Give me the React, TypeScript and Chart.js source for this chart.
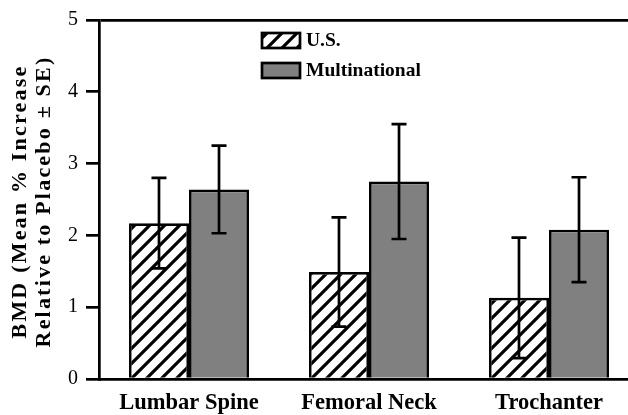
import React, { useEffect, useRef } from "react";
import { Chart, registerables } from "chart.js";

Chart.register(...registerables);

const categories = ["Lumbar Spine", "Femoral Neck", "Trochanter"];
const seriesLabels = ["U.S.", "Multinational"];
const usValues = [2.17, 1.49, 1.13];
const usErrors = [0.63, 0.76, 0.84];
const multiValues = [2.64, 2.75, 2.08];
const multErrors = [0.61, 0.8, 0.73];
const yTicks = [0, 1, 2, 3, 4, 5];
const yTitle = ["BMD (Mean % Increase", "Relative to Placebo ± SE)"];

const FONT = "'Liberation Serif', 'Times New Roman', serif";

function makeHatch(): CanvasPattern | string {
  const s = 15;
  const c = document.createElement("canvas");
  c.width = s;
  c.height = s;
  const g = c.getContext("2d");
  if (!g) return "#fff";
  g.fillStyle = "#ffffff";
  g.fillRect(0, 0, s, s);
  g.strokeStyle = "#000000";
  g.lineWidth = 3.2;
  g.lineCap = "square";
  g.beginPath();
  g.moveTo(-2, s + 2);
  g.lineTo(s + 2, -2);
  g.moveTo(-s / 2 - 2, s / 2 + 2);
  g.lineTo(s / 2 + 2, -s / 2 - 2);
  g.moveTo(s / 2 - 2, s * 1.5 + 2);
  g.lineTo(s * 1.5 + 2, s / 2 - 2);
  g.stroke();
  const p = g.createPattern(c, "repeat");
  return p || "#fff";
}

export default function App() {
  const ref = useRef<HTMLCanvasElement | null>(null);

  useEffect(() => {
    if (!ref.current) return;
    const hatch = makeHatch();
    const errors = [usErrors, multErrors];

    const errorBars = {
      id: "errorBars",
      afterDatasetsDraw(chart: any) {
        const ctx = chart.ctx;
        const ys = chart.scales.y;
        ctx.save();
        ctx.strokeStyle = "#000";
        ctx.lineWidth = 2.7;
        chart.data.datasets.forEach((ds: any, i: number) => {
          const meta = chart.getDatasetMeta(i);
          meta.data.forEach((el: any, j: number) => {
            const v = ds.data[j];
            const e = errors[i][j];
            const x = el.x;
            const yt = ys.getPixelForValue(v + e);
            const yb = ys.getPixelForValue(v - e);
            ctx.beginPath();
            ctx.moveTo(x, yt);
            ctx.lineTo(x, yb);
            ctx.moveTo(x - 7.5, yt);
            ctx.lineTo(x + 7.5, yt);
            ctx.moveTo(x - 7.5, yb);
            ctx.lineTo(x + 7.5, yb);
            ctx.stroke();
          });
        });
        ctx.restore();
      },
    };

    const customLegend = {
      id: "customLegend",
      afterDraw(chart: any) {
        const ctx = chart.ctx;
        ctx.save();
        const bx = 262;
        const rows = [33, 63];
        chart.data.datasets.forEach((ds: any, i: number) => {
          const y = rows[i];
          ctx.fillStyle = ds.backgroundColor;
          ctx.fillRect(bx, y, 38, 15);
          ctx.strokeStyle = "#000";
          ctx.lineWidth = 2.7;
          ctx.strokeRect(bx, y, 38, 15);
          ctx.fillStyle = "#000";
          ctx.font = `bold 19.5px ${FONT}`;
          ctx.textBaseline = "middle";
          ctx.textAlign = "left";
          ctx.fillText(ds.label, bx + 44, y + 8);
        });
        ctx.restore();
      },
    };

    const yTitlePlugin = {
      id: "yTitlePlugin",
      afterDraw(chart: any) {
        const ctx = chart.ctx;
        const area = chart.chartArea;
        ctx.save();
        ctx.fillStyle = "#000";
        ctx.font = `bold 22px ${FONT}`;
        (ctx as any).letterSpacing = "2.2px";
        ctx.textAlign = "center";
        ctx.textBaseline = "middle";
        const cy = (area.top + area.bottom) / 2 + 2;
        const xs = [20, 44];
        yTitle.forEach((line, i) => {
          ctx.save();
          ctx.translate(xs[i], cy);
          ctx.rotate(-Math.PI / 2);
          ctx.fillText(line, 0, 0);
          ctx.restore();
        });
        ctx.restore();
      },
    };

    const chart = new Chart(ref.current, {
      type: "bar",
      data: {
        labels: categories,
        datasets: [
          {
            label: seriesLabels[0],
            data: usValues,
            backgroundColor: hatch as any,
            borderColor: "#000",
            borderWidth: 2.7,
            categoryPercentage: 0.667,
            barPercentage: 1.0,
          },
          {
            label: seriesLabels[1],
            data: multiValues,
            backgroundColor: "#808080",
            borderColor: "#000",
            borderWidth: 2.7,
            categoryPercentage: 0.667,
            barPercentage: 1.0,
          },
        ],
      },
      options: {
        animation: false,
        responsive: false,
        devicePixelRatio: 1,
        layout: { padding: { top: 20, right: 1, left: 0, bottom: 0 } },
        plugins: {
          legend: { display: false },
          tooltip: { enabled: false },
        },
        scales: {
          x: {
            grid: { display: false, drawTicks: false },
            border: { display: true, color: "#000", width: 2.7 },
            ticks: {
              color: "#000",
              padding: 11,
              font: { family: FONT, size: 22.5, weight: "bold" },
            },
            afterFit(scale: any) {
              scale.height = 36;
            },
          },
          y: {
            min: 0,
            max: 5,
            afterBuildTicks(scale: any) {
              scale.ticks = yTicks.map((v) => ({ value: v }));
            },
            grid: {
              drawOnChartArea: true,
              color: (c: any) => (c.tick && c.tick.value === 5 ? "#000" : "rgba(0,0,0,0)"),
              lineWidth: 2.7,
              tickColor: "#000",
              tickLength: 13,
              tickWidth: 2.7,
            },
            border: { display: true, color: "#000", width: 2.7 },
            ticks: {
              color: "#000",
              padding: 8,
              font: { family: FONT, size: 20 },
            },
            afterFit(scale: any) {
              scale.width = 99;
            },
          },
        },
      } as any,
      plugins: [errorBars, customLegend, yTitlePlugin],
    });
    return () => chart.destroy();
  }, []);

  return (
    <div style={{ position: "fixed", left: 0, top: 0, width: 640, height: 415, overflow: "hidden", background: "#fff" }}>
      <canvas ref={ref} width={640} height={415} />
    </div>
  );
}
